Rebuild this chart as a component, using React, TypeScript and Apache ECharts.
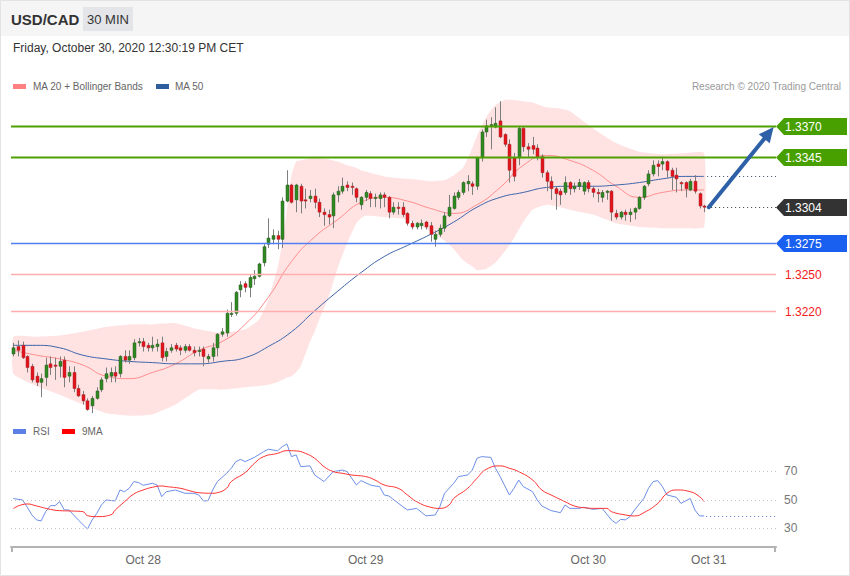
import React, { useEffect, useRef } from 'react';
import * as echarts from 'echarts';

// ---------- DATA ----------
const firstCandleUTC = Date.UTC(2020, 9, 27, 10, 0);
const slotCount = 165;

const candleOpen = [
  1.3185, 1.3191, 1.3192, 1.3183, 1.3175, 1.3167, 1.3162, 1.3166, 1.3177, 1.3176,
  1.3175, 1.3180, 1.3167, 1.3170, 1.3157, 1.3152, 1.3147, 1.3143, 1.3149, 1.3156,
  1.3165, 1.3167, 1.3170, 1.3169, 1.3183, 1.3180, 1.3182, 1.3194, 1.3195, 1.3192,
  1.3190, 1.3191, 1.3194, 1.3183, 1.3188, 1.3192, 1.3190, 1.3188, 1.3191, 1.3188,
  1.3187, 1.3189, 1.3181, 1.3183, 1.3190, 1.3201, 1.3202, 1.3217, 1.3218, 1.3237,
  1.3242, 1.3239, 1.3246, 1.3248, 1.3259, 1.3274, 1.3278, 1.3281, 1.3278, 1.3309,
  1.3322, 1.3310, 1.3321, 1.3310, 1.3311, 1.3313, 1.3308, 1.3300, 1.3298, 1.3297,
  1.3314, 1.3317, 1.3322, 1.3321, 1.3319, 1.3306, 1.3312, 1.3315, 1.3311, 1.3311,
  1.3314, 1.3312, 1.3300, 1.3304, 1.3304, 1.3299, 1.3291, 1.3288, 1.3289, 1.3292,
  1.3289, 1.3278, 1.3282, 1.3287, 1.3297, 1.3303, 1.3312, 1.3316, 1.3323, 1.3323,
  1.3321, 1.3344, 1.3365, 1.3370, 1.3369, 1.3374, 1.3363, 1.3355, 1.3344, 1.3344,
  1.3368, 1.3353, 1.3354, 1.3352, 1.3345, 1.3332, 1.3325, 1.3319, 1.3317, 1.3316,
  1.3324, 1.3319, 1.3321, 1.3317, 1.3324, 1.3319, 1.3316, 1.3312, 1.3316, 1.3317,
  1.3299, 1.3296, 1.3300, 1.3298, 1.3300, 1.3303, 1.3312, 1.3323, 1.3331, 1.3339,
  1.3339, 1.3341, 1.3334, 1.3330, 1.3324, 1.3324, 1.3318, 1.3325, 1.3315, 1.3305,
];
const candleClose = [
  1.3190, 1.3188, 1.3182, 1.3174, 1.3164, 1.3162, 1.3165, 1.3176, 1.3174, 1.3175,
  1.3179, 1.3166, 1.3170, 1.3157, 1.3151, 1.3147, 1.3140, 1.3149, 1.3155, 1.3164,
  1.3169, 1.3170, 1.3167, 1.3183, 1.3180, 1.3183, 1.3194, 1.3195, 1.3191, 1.3190,
  1.3192, 1.3193, 1.3182, 1.3187, 1.3190, 1.3189, 1.3188, 1.3191, 1.3188, 1.3186,
  1.3188, 1.3183, 1.3183, 1.3190, 1.3201, 1.3203, 1.3218, 1.3218, 1.3235, 1.3241,
  1.3239, 1.3247, 1.3248, 1.3258, 1.3272, 1.3279, 1.3281, 1.3278, 1.3309, 1.3322,
  1.3308, 1.3322, 1.3309, 1.3309, 1.3313, 1.3308, 1.3300, 1.3298, 1.3296, 1.3314,
  1.3317, 1.3321, 1.3320, 1.3320, 1.3312, 1.3312, 1.3316, 1.3311, 1.3312, 1.3314,
  1.3312, 1.3300, 1.3304, 1.3303, 1.3298, 1.3291, 1.3288, 1.3291, 1.3291, 1.3288,
  1.3282, 1.3282, 1.3287, 1.3297, 1.3304, 1.3313, 1.3316, 1.3324, 1.3325, 1.3321,
  1.3344, 1.3365, 1.3370, 1.3371, 1.3372, 1.3361, 1.3355, 1.3334, 1.3329, 1.3368,
  1.3353, 1.3351, 1.3351, 1.3345, 1.3332, 1.3325, 1.3319, 1.3315, 1.3314, 1.3324,
  1.3319, 1.3321, 1.3324, 1.3324, 1.3319, 1.3316, 1.3315, 1.3316, 1.3317, 1.3300,
  1.3296, 1.3300, 1.3298, 1.3300, 1.3303, 1.3312, 1.3321, 1.3331, 1.3338, 1.3337,
  1.3341, 1.3334, 1.3329, 1.3327, 1.3323, 1.3319, 1.3325, 1.3317, 1.3305, 1.3304,
];
const candleLow = [
  1.3183, 1.3183, 1.3181, 1.3170, 1.3162, 1.3159, 1.3150, 1.3159, 1.3168, 1.3164,
  1.3166, 1.3158, 1.3162, 1.3154, 1.3150, 1.3144, 1.3139, 1.3137, 1.3148, 1.3154,
  1.3162, 1.3162, 1.3162, 1.3166, 1.3178, 1.3177, 1.3180, 1.3191, 1.3187, 1.3187,
  1.3187, 1.3187, 1.3179, 1.3179, 1.3186, 1.3187, 1.3184, 1.3186, 1.3187, 1.3183,
  1.3183, 1.3175, 1.3178, 1.3179, 1.3183, 1.3199, 1.3199, 1.3215, 1.3216, 1.3231,
  1.3235, 1.3231, 1.3241, 1.3247, 1.3256, 1.3271, 1.3274, 1.3270, 1.3271, 1.3308,
  1.3307, 1.3300, 1.3299, 1.3303, 1.3308, 1.3303, 1.3296, 1.3289, 1.3290, 1.3287,
  1.3308, 1.3315, 1.3317, 1.3314, 1.3308, 1.3302, 1.3309, 1.3304, 1.3304, 1.3303,
  1.3304, 1.3295, 1.3298, 1.3298, 1.3296, 1.3289, 1.3286, 1.3286, 1.3286, 1.3286,
  1.3276, 1.3272, 1.3280, 1.3284, 1.3296, 1.3302, 1.3310, 1.3314, 1.3317, 1.3314,
  1.3318, 1.3341, 1.3361, 1.3351, 1.3368, 1.3360, 1.3353, 1.3324, 1.3325, 1.3338,
  1.3349, 1.3344, 1.3347, 1.3342, 1.3328, 1.3317, 1.3310, 1.3302, 1.3306, 1.3314,
  1.3314, 1.3316, 1.3318, 1.3314, 1.3316, 1.3312, 1.3308, 1.3308, 1.3310, 1.3293,
  1.3294, 1.3294, 1.3293, 1.3292, 1.3294, 1.3302, 1.3310, 1.3321, 1.3329, 1.3329,
  1.3334, 1.3328, 1.3318, 1.3316, 1.3317, 1.3312, 1.3317, 1.3315, 1.3303, 1.3300,
];
const candleHigh = [
  1.3194, 1.3196, 1.3195, 1.3184, 1.3177, 1.3170, 1.3169, 1.3182, 1.3183, 1.3182,
  1.3183, 1.3183, 1.3175, 1.3175, 1.3160, 1.3155, 1.3149, 1.3151, 1.3158, 1.3166,
  1.3174, 1.3174, 1.3175, 1.3184, 1.3188, 1.3188, 1.3197, 1.3198, 1.3198, 1.3194,
  1.3199, 1.3197, 1.3199, 1.3190, 1.3193, 1.3194, 1.3192, 1.3193, 1.3193, 1.3191,
  1.3191, 1.3191, 1.3185, 1.3194, 1.3202, 1.3206, 1.3221, 1.3227, 1.3236, 1.3244,
  1.3244, 1.3249, 1.3253, 1.3259, 1.3274, 1.3295, 1.3286, 1.3285, 1.3312, 1.3334,
  1.3323, 1.3323, 1.3323, 1.3319, 1.3318, 1.3319, 1.3311, 1.3303, 1.3302, 1.3316,
  1.3321, 1.3328, 1.3325, 1.3324, 1.3320, 1.3313, 1.3318, 1.3317, 1.3315, 1.3316,
  1.3316, 1.3313, 1.3308, 1.3308, 1.3308, 1.3300, 1.3293, 1.3292, 1.3294, 1.3293,
  1.3292, 1.3285, 1.3290, 1.3300, 1.3314, 1.3316, 1.3318, 1.3325, 1.3330, 1.3325,
  1.3345, 1.3367, 1.3375, 1.3377, 1.3385, 1.3390, 1.3364, 1.3359, 1.3348, 1.3370,
  1.3369, 1.3356, 1.3361, 1.3355, 1.3347, 1.3334, 1.3329, 1.3321, 1.3319, 1.3329,
  1.3325, 1.3324, 1.3327, 1.3325, 1.3326, 1.3321, 1.3319, 1.3318, 1.3318, 1.3318,
  1.3302, 1.3301, 1.3302, 1.3303, 1.3304, 1.3313, 1.3322, 1.3334, 1.3342, 1.3342,
  1.3345, 1.3342, 1.3336, 1.3336, 1.3325, 1.3325, 1.3327, 1.3330, 1.3316, 1.3306,
];

const maIndex = [0, 5, 10, 15, 20, 25, 30, 35, 40, 45, 50, 55, 60, 65, 70, 75, 80, 85, 90, 95, 100, 105, 110, 115, 120, 125, 130, 135, 140, 145, 149];
const ma20 = [1.3188, 1.3184, 1.3181, 1.3176, 1.3167, 1.3165, 1.3170, 1.3177, 1.3188, 1.3195, 1.3209, 1.3231, 1.3260, 1.3280, 1.3294, 1.3308, 1.3312, 1.3309, 1.3303, 1.3299, 1.3306, 1.3320, 1.3338, 1.3346, 1.3342, 1.3334, 1.3321, 1.3312, 1.3316, 1.3318, 1.3318];
const ma50 = [1.3192, 1.3192, 1.3190, 1.3184, 1.3181, 1.3179, 1.3178, 1.3177, 1.3177, 1.3179, 1.3182, 1.3191, 1.3203, 1.3220, 1.3236, 1.3251, 1.3264, 1.3273, 1.3282, 1.3292, 1.3304, 1.3312, 1.3316, 1.3320, 1.3321, 1.3321, 1.3322, 1.3324, 1.3327, 1.3329, 1.3329];

const bbIndex = [0, 5, 10, 15, 20, 25, 30, 35, 40, 45, 50, 53, 55, 57, 58, 59, 60, 61, 62, 64, 65, 66, 68, 70, 72, 74, 75, 76, 80, 85, 88, 90, 93, 95, 97, 99, 100, 102, 104, 106, 108, 110, 112, 115, 118, 120, 125, 130, 135, 140, 145, 149];
const bbUpper = [1.3199, 1.3199, 1.3200, 1.3203, 1.3207, 1.3209, 1.3209, 1.3210, 1.3205, 1.3202, 1.3205, 1.3213, 1.3229, 1.3255, 1.3275, 1.3302, 1.3330, 1.3341, 1.3342, 1.3344, 1.3344, 1.3344, 1.3343, 1.3341, 1.3338, 1.3336, 1.3334, 1.3333, 1.3329, 1.3327, 1.3326, 1.3325, 1.3326, 1.3330, 1.3336, 1.3352, 1.3362, 1.3377, 1.3387, 1.3391, 1.3391, 1.3390, 1.3389, 1.3385, 1.3384, 1.3382, 1.3368, 1.3356, 1.3349, 1.3347, 1.3348, 1.3348];
const bbLower = [1.3169, 1.3159, 1.3152, 1.3144, 1.3137, 1.3135, 1.3136, 1.3144, 1.3156, 1.3156, 1.3158, 1.3159, 1.3160, 1.3162, 1.3164, 1.3166, 1.3167, 1.3170, 1.3175, 1.3195, 1.3203, 1.3213, 1.3231, 1.3255, 1.3275, 1.3291, 1.3295, 1.3297, 1.3296, 1.3294, 1.3289, 1.3284, 1.3277, 1.3270, 1.3261, 1.3256, 1.3253, 1.3254, 1.3259, 1.3268, 1.3279, 1.3292, 1.3302, 1.3306, 1.3304, 1.3302, 1.3298, 1.3291, 1.3288, 1.3287, 1.3287, 1.3288];

const rsiIndex = [0, 2, 3, 4, 5, 6, 7, 8, 9, 10, 11, 12, 13, 14, 16, 17, 18, 19, 20, 22, 23, 24, 25, 26, 27, 28, 30, 31, 32, 33, 35, 37, 39, 40, 41, 42, 43, 44, 46, 47, 48, 49, 50, 52, 54, 55, 57, 58, 59, 60, 61, 62, 64, 65, 67, 69, 71, 72, 74, 75, 77, 78, 79, 80, 81, 84, 85, 87, 89, 91, 92, 93, 95, 96, 98, 99, 100, 101, 103, 104, 105, 107, 108, 109, 110, 112, 113, 114, 116, 118, 119, 120, 122, 123, 125, 127, 129, 130, 131, 132, 133, 134, 136, 137, 138, 139, 140, 141, 143, 144, 146, 147, 148, 149];
const rsiValue = [51, 50, 45, 39.5, 36, 35.3, 42, 46, 46, 48.8, 43, 43, 39.5, 36, 29.6, 36, 40.6, 46.5, 50, 49.3, 57, 55.8, 58.2, 62.9, 62.2, 60.3, 61.7, 60.5, 52.3, 55.8, 57, 54.7, 54.7, 53.5, 49.3, 49.5, 57, 62.9, 68.7, 72.2, 76.9, 78.5, 76.9, 79.9, 83.9, 85.6, 84.5, 87.4, 89.3, 80.4, 81.6, 73.4, 73.9, 67.5, 62.9, 69.9, 71, 69.9, 60.5, 63.6, 60.5, 59.8, 59.4, 53.5, 52.8, 45.3, 43, 44.1, 38.8, 39.5, 45.3, 54.7, 61.7, 66.4, 67.5, 71, 79.2, 80.4, 79.9, 72.2, 66.4, 53.5, 58.2, 64, 59.4, 55.8, 50, 45.8, 42.5, 41.1, 46.5, 44.1, 44.1, 44.9, 43.4, 44.1, 36, 33.6, 36.4, 36, 38.3, 43, 51.1, 58.2, 62.9, 63.6, 59.4, 53.5, 51.9, 47.6, 51.1, 43, 38.8, 38.8];

const rsiMaIndex = [0, 3, 5, 8, 10, 12, 15, 16, 18, 21, 22, 24, 26, 28, 30, 32, 33, 36, 38, 40, 43, 44, 46, 47, 50, 52, 54, 57, 59, 61, 63, 65, 67, 69, 71, 73, 76, 78, 80, 83, 85, 87, 90, 92, 94, 95, 98, 100, 102, 105, 107, 109, 112, 114, 116, 119, 121, 123, 126, 128, 129, 132, 134, 136, 139, 141, 143, 146, 148, 149];
const rsiMaValue = [44, 47.2, 45.8, 43.4, 42.5, 42.3, 41.8, 39, 38.3, 39.5, 43, 48.8, 54.2, 57, 58.9, 59.8, 59.4, 58.2, 56.5, 55.1, 54.7, 55.1, 58.2, 62.9, 69.2, 75.7, 80.4, 82.7, 84.6, 84.4, 82.7, 79.2, 73.4, 69.9, 68.7, 67.5, 66.4, 64, 60.5, 58.2, 53.5, 48.8, 44.9, 44.1, 46.5, 51.1, 58.2, 65.2, 71.5, 73.9, 72.2, 69.9, 64, 57, 53.5, 48.8, 45.8, 44.6, 44.1, 44.1, 41.8, 39.5, 38.8, 41.1, 47.6, 54.7, 57, 55.8, 52.3, 48.8];

const rsiGuides = [70, 50, 30];

const levelValues = [1.3370, 1.3345, 1.3304, 1.3275, 1.3250, 1.3220];
const levelKinds = ['resistance', 'resistance', 'last', 'pivot', 'support', 'support'];

const arrowFrom = [150, 1.3304];
const arrowTo = [164, 1.3369];

const xTickAt = ['2020-10-28 00:00', '2020-10-29 00:00', '2020-10-30 00:00', '2020-10-30 13:00'];
const xTickLabels = ['Oct 28', 'Oct 29', 'Oct 30', 'Oct 31'];

// ---------- STYLE ----------
const FONT = '"Liberation Sans", Arial, Helvetica, sans-serif';
const UP = '#2f8a21';
const DOWN = '#e5141c';

const levelStyles: Record<string, any> = {
  resistance: { line: '#4ea000', width: 2, dash: null, box: '#48a000', text: '#ffffff' },
  last: { line: '#333333', width: 1, dash: [1, 3], box: '#333333', text: '#ffffff' },
  pivot: { line: '#4f7ff0', width: 1.5, dash: null, box: '#1a60f0', text: '#ffffff' },
  support: { line: '#ffadad', width: 1.5, dash: null, box: null, text: '#f21b1b' },
  maEnd: { line: '#3a4a6a', width: 1, dash: [1, 3], box: null, text: null },
};

const pad = (n: number) => String(n).padStart(2, '0');
const categories = Array.from({ length: slotCount }, (_, i) => {
  const d = new Date(firstCandleUTC + i * 30 * 60000);
  return `${d.getUTCFullYear()}-${pad(d.getUTCMonth() + 1)}-${pad(d.getUTCDate())} ${pad(d.getUTCHours())}:${pad(d.getUTCMinutes())}`;
});

export default function App() {
  const ref = useRef<HTMLDivElement>(null);

  useEffect(() => {
    document.body.style.margin = '0';
    if (!ref.current) return;
    const chart = echarts.init(ref.current, undefined, { renderer: 'svg' });

    const candleData = candleOpen.map((o, i) => [i, o, candleClose[i], candleLow[i], candleHigh[i]]);
    const lastIdx = candleOpen.length - 1;
    const levelData = levelValues.map((v, k) => [0, v, k]);
    levelData.push([0, ma50[ma50.length - 1], levelKinds.length]);
    const kinds = [...levelKinds, 'maEnd'];

    const option: any = {
      animation: false,
      backgroundColor: '#ffffff',
      textStyle: { fontFamily: FONT },
      grid: [
        { left: 11, top: 95, width: 765, height: 326.8 },
        { left: 11, top: 428.7, width: 765, height: 118.3 },
      ],
      xAxis: [
        { type: 'category', gridIndex: 0, data: categories, boundaryGap: true, show: false },
        {
          type: 'category', gridIndex: 1, data: categories, boundaryGap: true,
          axisLine: { lineStyle: { color: '#b3b3b3', width: 2 } },
          axisTick: { show: false },
          splitLine: { show: false },
          axisLabel: {
            interval: (i: number, v: string) => xTickAt.includes(v),
            formatter: (v: string) => { const k = xTickAt.indexOf(v); return k >= 0 ? xTickLabels[k] : ''; },
            color: '#666', fontSize: 12, margin: 7, fontFamily: FONT,
          },
        },
      ],
      yAxis: [
        { type: 'value', gridIndex: 0, min: 1.3130, max: 1.3395, show: false },
        { type: 'value', gridIndex: 1, min: 17, max: 100, show: false },
      ],
      series: [
        {
          type: 'custom', name: 'bands', xAxisIndex: 0, yAxisIndex: 0, z: 1,
          data: [[bbIndex[0], bbUpper[0]]],
          encode: { x: 0, y: 1 },
          renderItem: (params: any, api: any) => {
            const pts: number[][] = [];
            bbIndex.forEach((ix, k) => pts.push(api.coord([ix, bbUpper[k]])));
            for (let k = bbIndex.length - 1; k >= 0; k--) pts.push(api.coord([bbIndex[k], bbLower[k]]));
            return { type: 'polygon', shape: { points: pts, smooth: 0.15 }, style: { fill: 'rgba(255,0,0,0.11)' } };
          },
        },
        {
          type: 'line', name: 'MA 20', xAxisIndex: 0, yAxisIndex: 0, z: 2,
          data: maIndex.map((ix, k) => [ix, ma20[k]]), smooth: true, showSymbol: false,
          lineStyle: { color: '#ff8c8c', width: 1 },
        },
        {
          type: 'line', name: 'MA 50', xAxisIndex: 0, yAxisIndex: 0, z: 2,
          data: maIndex.map((ix, k) => [ix, ma50[k]]), smooth: true, showSymbol: false,
          lineStyle: { color: '#3d64a8', width: 1 },
        },
        {
          type: 'custom', name: 'USD/CAD', xAxisIndex: 0, yAxisIndex: 0, z: 3,
          data: candleData, encode: { x: 0, y: [1, 2, 3, 4] },
          renderItem: (params: any, api: any) => {
            const i = api.value(0);
            const o = api.value(1), c = api.value(2), l = api.value(3), h = api.value(4);
            const pO = api.coord([i, o]);
            const pC = api.coord([i, c]);
            const pL = api.coord([i, l]);
            const pH = api.coord([i, h]);
            const cx = Math.round(pO[0]);
            const top = Math.min(pO[1], pC[1]);
            const bh = Math.max(1, Math.abs(pO[1] - pC[1]));
            const up = c >= o;
            return {
              type: 'group',
              children: [
                { type: 'line', shape: { x1: cx + 0.5, y1: pH[1], x2: cx + 0.5, y2: pL[1] }, style: { stroke: '#7d7d7d', lineWidth: 1 } },
                { type: 'rect', shape: { x: cx - 1, y: top, width: 3, height: bh }, style: { fill: up ? UP : DOWN, stroke: up ? '#2a5a22' : '#a3262a', lineWidth: 0.5 } },
              ],
            };
          },
        },
        {
          type: 'custom', name: 'levels', xAxisIndex: 0, yAxisIndex: 0, z: 4,
          data: levelData, encode: { x: 0, y: 1 },
          renderItem: (params: any, api: any) => {
            const v = api.value(1);
            const kind = kinds[api.value(2)];
            const st = levelStyles[kind];
            const cs = params.coordSys;
            const y = Math.round(api.coord([0, v])[1]) + 0.5;
            const xR = cs.x + cs.width;
            const xStart = (kind === 'last' || kind === 'maEnd') ? api.coord([lastIdx, v])[0] + 3 : cs.x;
            const children: any[] = [
              { type: 'line', shape: { x1: xStart, y1: y, x2: xR, y2: y }, style: { stroke: st.line, lineWidth: st.width, lineDash: st.dash || undefined } },
            ];
            if (st.box) {
              children.push({ type: 'polygon', shape: { points: [[xR, y], [xR + 8, y - 8.5], [xR + 71, y - 8.5], [xR + 71, y + 8.5], [xR + 8, y + 8.5]] }, style: { fill: st.box } });
            }
            if (st.text) {
              children.push({ type: 'text', x: xR + 9, y: y, style: { text: v.toFixed(4), fill: st.text, font: `12px ${FONT}`, align: 'left', verticalAlign: 'middle' } });
            }
            return { type: 'group', children };
          },
        },
        {
          type: 'custom', name: 'target', xAxisIndex: 0, yAxisIndex: 0, z: 5,
          data: [[arrowFrom[0], arrowFrom[1], arrowTo[0], arrowTo[1]]],
          encode: { x: [0, 2], y: [1, 3] },
          renderItem: (params: any, api: any) => {
            const p1 = api.coord([api.value(0), api.value(1)]);
            const p2 = api.coord([api.value(2), api.value(3)]);
            const dx = p2[0] - p1[0], dy = p2[1] - p1[1];
            const len = Math.sqrt(dx * dx + dy * dy);
            const ux = dx / len, uy = dy / len;
            const head = 15, half = 7;
            const bx = p2[0] - ux * head, by = p2[1] - uy * head;
            return {
              type: 'group',
              children: [
                { type: 'line', shape: { x1: p1[0], y1: p1[1], x2: bx + ux * 2, y2: by + uy * 2 }, style: { stroke: '#2d60a6', lineWidth: 4, lineCap: 'round' } },
                { type: 'polygon', shape: { points: [[p2[0], p2[1]], [bx - uy * half, by + ux * half], [bx + uy * half, by - ux * half]] }, style: { fill: '#2d60a6' } },
              ],
            };
          },
        },
        {
          type: 'line', name: 'RSI', xAxisIndex: 1, yAxisIndex: 1, z: 3,
          data: rsiIndex.map((ix, k) => [ix, rsiValue[k]]), showSymbol: false,
          lineStyle: { color: '#6d8ee8', width: 1 },
        },
        {
          type: 'line', name: '9MA', xAxisIndex: 1, yAxisIndex: 1, z: 3,
          data: rsiMaIndex.map((ix, k) => [ix, rsiMaValue[k]]), smooth: true, showSymbol: false,
          lineStyle: { color: '#ff3030', width: 1 },
          markLine: {
            silent: true, symbol: 'none',
            lineStyle: { color: '#c4c4c4', type: [1, 3], width: 1 },
            label: { position: 'end', formatter: '{c}', color: '#777', fontSize: 12, distance: 8, fontFamily: FONT },
            data: rsiGuides.map((g) => ({ yAxis: g })),
          },
        },
        {
          type: 'custom', name: 'rsiDecor', xAxisIndex: 1, yAxisIndex: 1, z: 4,
          data: [[rsiIndex[rsiIndex.length - 1], rsiValue[rsiValue.length - 1]]],
          encode: { x: 0, y: 1 },
          renderItem: (params: any, api: any) => {
            const cs = params.coordSys;
            const p = api.coord([api.value(0), api.value(1)]);
            const yb = cs.y + cs.height;
            const xR = cs.x + cs.width;
            return {
              type: 'group',
              children: [
                { type: 'line', shape: { x1: p[0] + 2, y1: Math.round(p[1]) + 0.5, x2: xR, y2: Math.round(p[1]) + 0.5 }, style: { stroke: '#5b7fe6', lineWidth: 1, lineDash: [1, 3] } },
                { type: 'line', shape: { x1: cs.x + 1, y1: yb, x2: cs.x + 1, y2: yb + 5 }, style: { stroke: '#b3b3b3', lineWidth: 2 } },
                { type: 'line', shape: { x1: xR - 1, y1: yb, x2: xR - 1, y2: yb + 5 }, style: { stroke: '#b3b3b3', lineWidth: 2 } },
              ],
            };
          },
        },
      ],
      graphic: [
        { type: 'rect', z: -10, shape: { x: 0, y: 0, width: 850, height: 36 }, style: { fill: '#f5f5f5' } },
        { type: 'rect', z: 100, shape: { x: 0.5, y: 0.5, width: 849, height: 575 }, style: { fill: 'none', stroke: '#e3e3e3', lineWidth: 1 } },
        { type: 'text', x: 11, y: 19, style: { text: 'USD/CAD', font: `bold 15px ${FONT}`, fill: '#333', verticalAlign: 'middle' } },
        { type: 'rect', shape: { x: 83, y: 7, width: 50, height: 24 }, style: { fill: '#e3e5e8' } },
        { type: 'text', x: 108, y: 19, style: { text: '30 MIN', font: `13px ${FONT}`, fill: '#333', align: 'center', verticalAlign: 'middle' } },
        { type: 'text', x: 13, y: 48, style: { text: 'Friday, October 30, 2020 12:30:19 PM CET', font: `12px ${FONT}`, fill: '#333', verticalAlign: 'middle' } },
        { type: 'rect', shape: { x: 13, y: 84, width: 13, height: 5 }, style: { fill: '#ff8080' } },
        { type: 'text', x: 33, y: 86.5, style: { text: 'MA 20 + Bollinger Bands', font: `10px ${FONT}`, fill: '#666', verticalAlign: 'middle' } },
        { type: 'rect', shape: { x: 156, y: 84, width: 13, height: 5 }, style: { fill: '#2f5d9e' } },
        { type: 'text', x: 175, y: 86.5, style: { text: 'MA 50', font: `10px ${FONT}`, fill: '#666', verticalAlign: 'middle' } },
        { type: 'text', x: 841, y: 86.5, style: { text: 'Research \u00a9 2020 Trading Central', font: `10px ${FONT}`, fill: '#999', align: 'right', verticalAlign: 'middle' } },
        { type: 'rect', shape: { x: 13, y: 429, width: 13, height: 5 }, style: { fill: '#5b7fe6' } },
        { type: 'text', x: 33, y: 431.5, style: { text: 'RSI', font: `10px ${FONT}`, fill: '#666', verticalAlign: 'middle' } },
        { type: 'rect', shape: { x: 62, y: 429, width: 13, height: 5 }, style: { fill: '#ff0000' } },
        { type: 'text', x: 82, y: 431.5, style: { text: '9MA', font: `10px ${FONT}`, fill: '#666', verticalAlign: 'middle' } },
      ],
    };

    chart.setOption(option);
    return () => chart.dispose();
  }, []);

  return <div ref={ref} style={{ width: 850, height: 576 }} />;
}
